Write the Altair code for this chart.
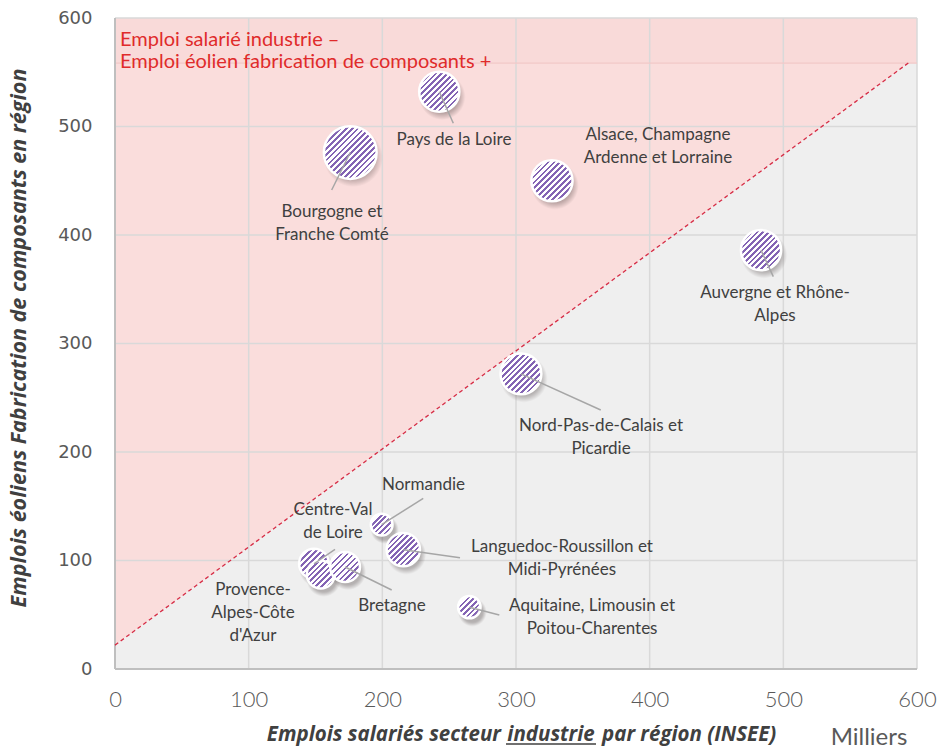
import math
import altair as alt
import pandas as pd

# --- data -------------------------------------------------------------------
regions = [
    "Pays de la Loire",
    "Bourgogne et Franche Comté",
    "Alsace, Champagne Ardenne et Lorraine",
    "Auvergne et Rhône-Alpes",
    "Nord-Pas-de-Calais et Picardie",
    "Normandie",
    "Languedoc-Roussillon et Midi-Pyrénées",
    "Centre-Val de Loire",
    "Provence-Alpes-Côte d'Azur",
    "Bretagne",
    "Aquitaine, Limousin et Poitou-Charentes",
]
# industrial salaried jobs per region (thousands, INSEE)
emploi_industrie = [242.6, 176.0, 326.9, 483.3, 303.7, 199.5, 215.7, 148.9, 153.9, 172.1, 265.1]
# wind-industry component manufacturing jobs per region
emploi_eolien = [532, 476, 450, 386, 272, 133, 110, 97, 87, 94, 57]
# relative bubble weight
poids = [58, 100, 61, 58, 60, 17, 40, 32, 28, 32, 18]

# label text (line breaks as displayed)
etiquettes = [
    "Pays de la Loire",
    "Bourgogne et\nFranche Comté",
    "Alsace, Champagne\nArdenne et Lorraine",
    "Auvergne et Rhône-\nAlpes",
    "Nord-Pas-de-Calais et\nPicardie",
    "Normandie",
    "Languedoc-Roussillon et\nMidi-Pyrénées",
    "Centre-Val\nde Loire",
    "Provence-\nAlpes-Côte\nd'Azur",
    "Bretagne",
    "Aquitaine, Limousin et\nPoitou-Charentes",
]
# label anchors (data units, first text line) and leader-line ends (None = no leader)
etiq_x = [253.6, 162.3, 406.2, 493.8, 363.6, 230.8, 334.4, 163.1, 103.2, 207.2, 356.9]
etiq_y = [487.6, 421.2, 492.2, 346.3, 224.0, 170.0, 112.2, 146.5, 72.8, 58.1, 58.3]
trait_x = [253.1, 162.1, None, 492.5, 363.4, 230.6, 258.1, 164.6, None, 207.0, 287.5]
trait_y = [503.0, 441.5, None, 361.6, 238.7, 157.3, 102.6, 110.3, None, 72.8, 49.8]

# dividing line between the two zones and the header band
diag_x = [0, 593.5]
diag_y = [22, 558.5]
bandeau_bas = 558.5

graduations = [0, 100, 200, 300, 400, 500, 600]

# --- styling ----------------------------------------------------------------
W, H = 802, 651
TAILLE_MAX = 2780  # symbol area (px^2) for weight 100
VIOLET = "#8464B4"
ROSE = "#FADDDC"
GRIS = "#EFEFEF"
TEXTE = "#404040"

sx = alt.Scale(domain=[0, 600], nice=False, zero=False)
sy = alt.Scale(domain=[0, 600], nice=False, zero=False)
x_axis = alt.Axis(values=graduations, title=None, grid=False, domain=False, ticks=False,
                  labelFont="Lato", labelFontWeight=300, labelFontSize=22,
                  labelColor="#595959", labelPadding=20, labelFlush=False, labelOverlap=False)
y_axis = alt.Axis(values=graduations, title=None, grid=False, domain=False, ticks=False,
                  labelFont="DejaVu Sans", labelFontSize=18,
                  labelColor="#595959", labelPadding=23, labelFlush=False, labelOverlap=False)


def X(field):
    return alt.X(field, type="quantitative", scale=sx, axis=x_axis)


def Y(field):
    return alt.Y(field, type="quantitative", scale=sy, axis=y_axis)


df = pd.DataFrame({
    "region": regions,
    "x": emploi_industrie,
    "y": emploi_eolien,
    "poids": poids,
    "label": etiquettes,
    "lx": etiq_x,
    "ly": etiq_y,
})
rayon = [math.sqrt(p / 100 * TAILLE_MAX / math.pi) for p in poids]
df["ombre"] = [math.pi * (r + 3.5) ** 2 for r in rayon]

# --- zones --------------------------------------------------------------------
zone = pd.DataFrame({
    "x": diag_x + [600],
    "y": diag_y + [bandeau_bas],
    "haut": [600] * 3,
    "bas": [0] * 3,
})
zone_rose = alt.Chart(zone).mark_area(color=ROSE, opacity=1).encode(
    x=X("x"), y=Y("y"), y2="haut")
zone_grise = alt.Chart(zone).mark_area(color=GRIS, opacity=1).encode(
    x=X("x"), y=Y("y"), y2="bas")

bandeau = alt.Chart(pd.DataFrame({"x": [0], "x2": [600], "y": [bandeau_bas], "y2": [600]})).mark_rect(
    color="#F9DAD9").encode(x=X("x"), x2="x2", y=Y("y"), y2="y2")
bandeau_trait = alt.Chart(pd.DataFrame({"x": [0], "x2": [600], "y": [bandeau_bas]})).mark_rule(
    color="#F2C8C8", strokeWidth=1.2).encode(x=X("x"), x2="x2", y=Y("y"))

# --- grid ---------------------------------------------------------------------
gv = pd.DataFrame({"x": graduations[1:], "y": [0] * 6, "y2": [600] * 6})
gh = pd.DataFrame({"y": graduations[1:], "x": [0] * 6, "x2": [600] * 6})
grille_v = alt.Chart(gv).mark_rule(color="#D9D9D9", strokeWidth=1.5).encode(x=X("x"), y=Y("y"), y2="y2")
grille_h = alt.Chart(gh).mark_rule(color="#D9D9D9", strokeWidth=1.5).encode(y=Y("y"), x=X("x"), x2="x2")
axes0 = pd.DataFrame({"x": [0, 0], "y": [0, 0], "x2": [600, 0], "y2": [0, 600]})
axes_lignes = alt.Chart(axes0).mark_rule(color="#BFBFBF", strokeWidth=2).encode(
    x=X("x"), y=Y("y"), x2="x2", y2="y2")

# --- dashed threshold line ---------------------------------------------------
diag = pd.DataFrame({"x": diag_x, "y": diag_y})
ligne = alt.Chart(diag).mark_line(color="#D62C45", strokeWidth=1.3, strokeDash=[4, 3]).encode(
    x=X("x"), y=Y("y"))

# --- bubbles --------------------------------------------------------------------
ombre_grad = alt.RadialGradient(
    gradient="radial", x1=0.5, y1=0.5, r1=0, x2=0.5, y2=0.5, r2=0.5,
    stops=[
        alt.GradientStop(offset=0, color="rgba(70,60,60,0.40)"),
        alt.GradientStop(offset=0.72, color="rgba(70,60,60,0.34)"),
        alt.GradientStop(offset=1, color="rgba(70,60,60,0)"),
    ],
)
ombres = alt.Chart(df).mark_circle(fill=ombre_grad, opacity=1, xOffset=3, yOffset=5).encode(
    x=X("x"), y=Y("y"), size=alt.Size("ombre:Q", scale=None, legend=None))


def rayures(n, part=0.47):
    stops = []
    for k in range(n):
        a, m, b = k / n, (k + part) / n, (k + 1) / n
        stops += [
            alt.GradientStop(offset=a, color=VIOLET),
            alt.GradientStop(offset=m, color=VIOLET),
            alt.GradientStop(offset=m, color="white"),
            alt.GradientStop(offset=b, color="white"),
        ]
    return alt.LinearGradient(gradient="linear", x1=0, y1=0, x2=1, y2=1, stops=stops)


bulles = []
for nom, r in zip(regions, rayon):
    n = max(5, round(2 * (2 * r) / 6.5))
    bulles.append(
        alt.Chart(df).transform_filter(alt.datum.region == nom).mark_circle(
            fill=rayures(n), opacity=1, stroke="white", strokeWidth=2.5
        ).encode(
            x=X("x"), y=Y("y"),
            size=alt.Size("poids:Q", scale=alt.Scale(domain=[0, 100], range=[0, TAILLE_MAX]), legend=None),
        )
    )

# --- leader lines and labels --------------------------------------------------
traits = pd.DataFrame({
    "x": [a for a, t in zip(emploi_industrie, trait_x) if t is not None],
    "y": [a for a, t in zip(emploi_eolien, trait_x) if t is not None],
    "x2": [t for t in trait_x if t is not None],
    "y2": [t for t in trait_y if t is not None],
})
reperes = alt.Chart(traits).mark_rule(color="#A6A6A6", strokeWidth=1.5).encode(
    x=X("x"), y=Y("y"), x2="x2", y2="y2")

noms = alt.Chart(df).mark_text(font="Lato", fontSize=17, color=TEXTE, align="center",
                               baseline="middle", lineBreak="\n", lineHeight=23).encode(
    x=X("lx"), y=Y("ly"), text="label:N")

# --- header, titles -----------------------------------------------------------
un = pd.DataFrame({"k": [0]})
entete = alt.Chart(un).mark_text(
    text="Emploi salarié industrie  –\nEmploi éolien fabrication de composants  +",
    font="Lato", fontSize=20, color="#E02B2B", align="left", baseline="middle",
    lineBreak="\n", lineHeight=22,
).encode(x=alt.value(5), y=alt.value(22))

TITRE_FONT = "Open Sans"
titre_y = alt.Chart(un).mark_text(
    text="Emplois éoliens Fabrication de composants en région",
    font=TITRE_FONT, fontSize=21.5, fontWeight="bold", fontStyle="italic", color=TEXTE,
    angle=270, align="center", baseline="middle",
).encode(x=alt.value(-95), y=alt.value(320))

titre_style = dict(font=TITRE_FONT, fontSize=20.5, fontWeight="bold", fontStyle="italic",
                   color=TEXTE, baseline="alphabetic")
titre_x1 = alt.Chart(un).mark_text(text="Emplois salariés secteur", align="right", **titre_style).encode(
    x=alt.value(386), y=alt.value(723))
titre_x2 = alt.Chart(un).mark_text(text="industrie", align="center", **titre_style).encode(
    x=alt.value(436), y=alt.value(723))
titre_x3 = alt.Chart(un).mark_text(text="par région (INSEE)", align="left", **titre_style).encode(
    x=alt.value(487), y=alt.value(723))
souligne = alt.Chart(un).mark_rule(color=TEXTE, strokeWidth=1.5).encode(
    x=alt.value(391), x2=alt.value(481), y=alt.value(726))
milliers = alt.Chart(un).mark_text(text="Milliers", font="Lato", fontSize=24, color="#595959",
                                   align="center", baseline="middle").encode(
    x=alt.value(754), y=alt.value(720))

chart = alt.layer(
    zone_rose, zone_grise, bandeau, grille_v, grille_h, bandeau_trait, axes_lignes, ligne,
    ombres, *bulles, reperes, noms, entete, titre_y, titre_x1, titre_x2, titre_x3, souligne, milliers,
).resolve_scale(size="independent").properties(
    width=W, height=H,
    autosize="none",
    padding={"left": 115, "top": 18, "right": 20, "bottom": 80},
    background="white",
).configure_view(strokeWidth=0)

chart.save("out.html", embed_options={"renderer": "svg", "actions": False})
